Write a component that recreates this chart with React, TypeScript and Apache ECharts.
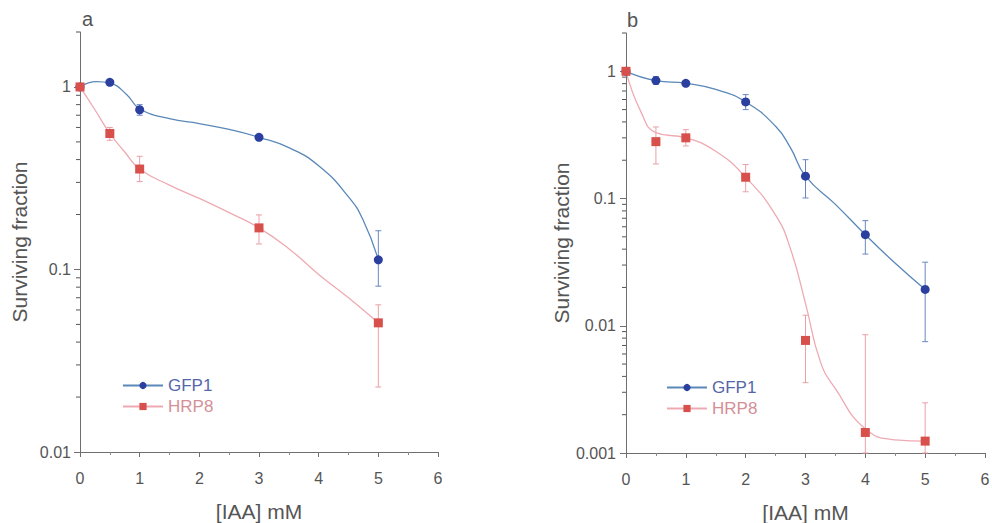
import React, { useEffect, useRef } from "react";
import * as echarts from "echarts";

// ---- Data ----
const seriesNames = ["GFP1", "HRP8"];

// Panel a: measured points
const xA = [0, 0.5, 1, 3, 5];
const gfpA = [1.0, 1.06, 0.75, 0.53, 0.113];
const gfpALo = [1.0, 1.02, 0.7, 0.51, 0.081];
const gfpAHi = [1.0, 1.1, 0.8, 0.55, 0.163];
const hrpA = [1.0, 0.556, 0.355, 0.169, 0.051];
const hrpALo = [1.0, 0.51, 0.303, 0.138, 0.0227];
const hrpAHi = [1.0, 0.6, 0.417, 0.199, 0.064];

// Panel a: fitted curves
const gfpACurveX = [0, 0.28, 0.5, 0.78, 1, 1.5, 2, 2.5, 3, 3.5, 4, 4.5, 4.75, 5];
const gfpACurve = [1.0, 1.07, 1.05, 0.91, 0.76, 0.67, 0.63, 0.585, 0.53, 0.465, 0.37, 0.25, 0.185, 0.113];
const hrpACurveX = [0, 0.25, 0.5, 0.75, 1, 1.5, 2, 2.5, 3, 3.5, 4, 4.5, 5];
const hrpACurve = [1.0, 0.75, 0.556, 0.44, 0.355, 0.29, 0.245, 0.205, 0.169, 0.13, 0.094, 0.07, 0.051];

// Panel b: measured points
const xB = [0, 0.5, 1, 2, 3, 4, 5];
const gfpB = [1.0, 0.845, 0.805, 0.574, 0.15, 0.052, 0.0193];
const gfpBLo = [1.0, 0.79, 0.77, 0.5, 0.101, 0.0366, 0.0075];
const gfpBHi = [1.0, 0.91, 0.84, 0.656, 0.202, 0.067, 0.0316];
const hrpB = [1.0, 0.28, 0.3, 0.147, 0.00767, 0.00145, 0.00124];
const hrpBLo = [1.0, 0.187, 0.259, 0.113, 0.00357, 0.001, 0.001];
const hrpBHi = [1.0, 0.365, 0.348, 0.185, 0.0121, 0.0085, 0.00248];

// Panel b: fitted curves
const gfpBCurveX = [0, 0.5, 1, 1.5, 2, 2.5, 2.75, 3, 3.5, 4, 4.5, 5];
const gfpBCurve = [1.0, 0.845, 0.805, 0.72, 0.574, 0.37, 0.25, 0.15, 0.09, 0.052, 0.031, 0.0193];
const hrpBCurveX = [0, 0.25, 0.5, 1, 1.5, 2, 2.5, 2.75, 3, 3.25, 3.5, 4, 4.5, 5];
const hrpBCurve = [1.0, 0.48, 0.33, 0.3, 0.235, 0.147, 0.074, 0.04, 0.015, 0.0052, 0.0032, 0.00155, 0.00127, 0.00124];

const majorA = [0.01, 0.1, 1];
const majorB = [0.001, 0.01, 0.1, 1];
const minorA = [0.02, 0.03, 0.04, 0.05, 0.06, 0.07, 0.08, 0.09, 0.2, 0.3, 0.4, 0.5, 0.6, 0.7, 0.8, 0.9, 2];
const minorB = [0.002, 0.003, 0.004, 0.005, 0.006, 0.007, 0.008, 0.009, ...minorA];

const FONT = "Liberation Sans";
const AXIS_COLOR = "#6f6f6f";
const LABEL_COLOR = "#555";
const BLUE_MARK = "#2b3f9e";
const BLUE_LINE = "#5a88b8";
const BLUE_ERR = "#6a88c0";
const RED_MARK = "#d8504c";
const RED_LINE = "#eeaab2";
const RED_ERR = "#e9a0a6";

function fmtLog(v: number) {
  const l = Math.log10(v);
  if (Math.abs(l - Math.round(l)) > 1e-6) return "";
  const r = Math.round(l);
  if (r === 0) return "1";
  return Math.pow(10, r).toFixed(-r);
}

function errBarSeries(name: string, gi: number, xs: number[], lo: number[], hi: number[], color: string) {
  return {
    type: "custom",
    name: name + "-err",
    xAxisIndex: gi,
    yAxisIndex: gi,
    z: 1,
    silent: true,
    encode: { x: 0, y: [1, 2] },
    data: xs.map((x, i) => [x, lo[i], hi[i]]),
    renderItem: (params: any, api: any) => {
      const x = api.value(0);
      const top = api.coord([x, api.value(2)]);
      const bot = api.coord([x, api.value(1)]);
      const w = 3;
      const st = { stroke: color, lineWidth: 1 };
      return {
        type: "group",
        children: [
          { type: "line", shape: { x1: top[0], y1: top[1], x2: bot[0], y2: bot[1] }, style: st },
          { type: "line", shape: { x1: top[0] - w, y1: top[1], x2: top[0] + w, y2: top[1] }, style: st },
          { type: "line", shape: { x1: bot[0] - w, y1: bot[1], x2: bot[0] + w, y2: bot[1] }, style: st },
        ],
      };
    },
  };
}

// minor log ticks on the y axis, positioned through the axis scale
function minorTickSeries(gi: number, values: number[]) {
  return {
    type: "custom",
    name: "minor-" + gi,
    xAxisIndex: gi,
    yAxisIndex: gi,
    z: 5,
    silent: true,
    clip: false,
    encode: { x: 0, y: 1 },
    data: [[0, 1]],
    renderItem: (params: any, api: any) => {
      const children = values.map((v) => {
        const p = api.coord([0, v]);
        return {
          type: "line",
          shape: { x1: p[0] - 4, y1: p[1], x2: p[0], y2: p[1] },
          style: { stroke: "#555555", lineWidth: 1 },
        };
      });
      return { type: "group", children };
    },
  };
}

function curveSeries(name: string, gi: number, xs: number[], ys: number[], isBlue: boolean) {
  return {
    type: "line",
    name,
    xAxisIndex: gi,
    yAxisIndex: gi,
    z: 2,
    smooth: 0.5,
    showSymbol: false,
    symbol: isBlue ? "circle" : "rect",
    symbolSize: 9,
    lineStyle: { color: isBlue ? BLUE_LINE : RED_LINE, width: 1.3 },
    itemStyle: { color: isBlue ? BLUE_MARK : RED_MARK },
    data: xs.map((x, i) => [x, ys[i]]),
  };
}

function pointSeries(name: string, gi: number, xs: number[], ys: number[], isBlue: boolean) {
  return {
    type: "scatter",
    name: name + " data",
    xAxisIndex: gi,
    yAxisIndex: gi,
    z: 3,
    symbol: isBlue ? "circle" : "rect",
    symbolSize: 9,
    itemStyle: { color: isBlue ? BLUE_MARK : RED_MARK, opacity: 1 },
    data: xs.map((x, i) => [x, ys[i]]),
  };
}

function xAxis(gi: number) {
  return {
    type: "value",
    gridIndex: gi,
    min: 0,
    max: 6,
    interval: 1,
    name: "[IAA] mM",
    nameLocation: "middle",
    nameGap: 49,
    nameTextStyle: { fontFamily: FONT, fontSize: 21, color: "#555" },
    axisLine: { show: true, onZero: false, lineStyle: { color: AXIS_COLOR, width: 1 } },
    axisTick: { show: true, inside: false, length: 5, lineStyle: { color: AXIS_COLOR } },
    minorTick: { show: true, splitNumber: 2, length: 3, lineStyle: { color: "#888" } },
    axisLabel: { margin: 18, fontFamily: FONT, fontSize: 16, color: LABEL_COLOR },
    splitLine: { show: false },
  };
}

function yAxisMain(gi: number, min: number, major: number[], margin: number) {
  return {
    type: "log",
    logBase: 10,
    gridIndex: gi,
    min,
    max: 2,
    name: "Surviving fraction",
    nameLocation: "middle",
    nameGap: 50,
    nameTextStyle: { fontFamily: FONT, fontSize: 21, color: "#555" },
    axisLine: { show: true, onZero: false, lineStyle: { color: AXIS_COLOR, width: 1 } },
    axisTick: { show: true, inside: false, length: 6, customValues: major, lineStyle: { color: AXIS_COLOR } },
    axisLabel: { customValues: major, margin, fontFamily: FONT, fontSize: 16, color: LABEL_COLOR, formatter: (v: number) => fmtLog(v) },
    splitLine: { show: false },
  };
}

function legend(left: number, top: number) {
  return {
    orient: "vertical",
    left,
    top,
    itemWidth: 40,
    itemHeight: 9,
    itemGap: 4,
    selectedMode: false,
    textStyle: { fontFamily: FONT, fontSize: 17 },
    data: [
      { name: seriesNames[0], textStyle: { color: "#5566aa" } },
      { name: seriesNames[1], textStyle: { color: "#d58f97" } },
    ],
  };
}

export default function App() {
  const ref = useRef<HTMLDivElement>(null);
  useEffect(() => {
    if (!ref.current) return;
    const chart = echarts.init(ref.current, null, { renderer: "svg" });
    chart.setOption({
      animation: false,
      backgroundColor: "#ffffff",
      grid: [
        { left: 80, top: 32, width: 358, height: 420, outerBoundsMode: "none", containLabel: false },
        { left: 626, top: 33, width: 359, height: 420, outerBoundsMode: "none", containLabel: false },
      ],
      xAxis: [xAxis(0), xAxis(1)],
      yAxis: [yAxisMain(0, 0.01, majorA, 9), yAxisMain(1, 0.001, majorB, 10)],
      legend: [legend(117, 372), legend(661, 374)],
      graphic: [
        { type: "text", left: 82, top: 9, style: { text: "a", fontFamily: FONT, fontSize: 20, fill: "#555" } },
        { type: "text", left: 627, top: 10, style: { text: "b", fontFamily: FONT, fontSize: 20, fill: "#555" } },
      ],
      series: [
        minorTickSeries(0, minorA),
        minorTickSeries(1, minorB),
        errBarSeries("GFP1", 0, xA, gfpALo, gfpAHi, BLUE_ERR),
        errBarSeries("HRP8", 0, xA, hrpALo, hrpAHi, RED_ERR),
        errBarSeries("GFP1", 1, xB, gfpBLo, gfpBHi, BLUE_ERR),
        errBarSeries("HRP8", 1, xB, hrpBLo, hrpBHi, RED_ERR),
        curveSeries(seriesNames[0], 0, gfpACurveX, gfpACurve, true),
        curveSeries(seriesNames[1], 0, hrpACurveX, hrpACurve, false),
        curveSeries(seriesNames[0], 1, gfpBCurveX, gfpBCurve, true),
        curveSeries(seriesNames[1], 1, hrpBCurveX, hrpBCurve, false),
        pointSeries(seriesNames[0], 0, xA, gfpA, true),
        pointSeries(seriesNames[1], 0, xA, hrpA, false),
        pointSeries(seriesNames[0], 1, xB, gfpB, true),
        pointSeries(seriesNames[1], 1, xB, hrpB, false),
      ],
    });
    return () => chart.dispose();
  }, []);
  return <div ref={ref} style={{ position: "fixed", left: 0, top: 0, width: 992, height: 523 }} />;
}
